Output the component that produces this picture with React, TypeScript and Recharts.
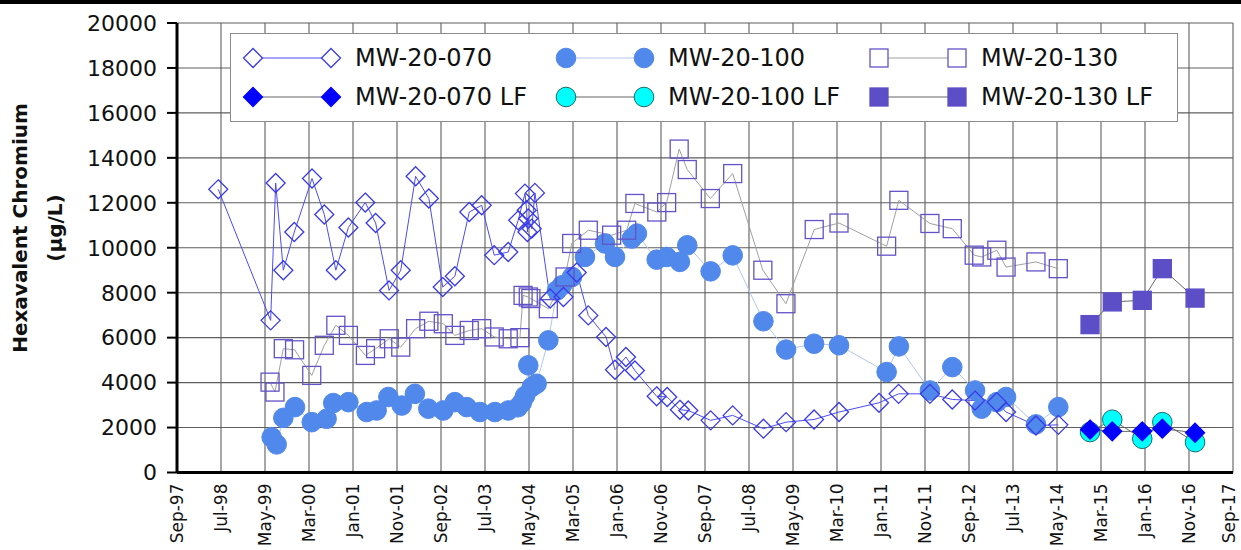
import React from 'react';
import { LineChart, Line, XAxis, YAxis, CartesianGrid } from 'recharts';

// x axis: Excel-style date axis, one major unit = 305 days
const tickLabels = [
  'Sep-97', 'Jul-98', 'May-99', 'Mar-00', 'Jan-01', 'Nov-01', 'Sep-02', 'Jul-03', 'May-04',
  'Mar-05', 'Jan-06', 'Nov-06', 'Sep-07', 'Jul-08', 'May-09', 'Mar-10', 'Jan-11', 'Nov-11',
  'Sep-12', 'Jul-13', 'May-14', 'Mar-15', 'Jan-16', 'Nov-16', 'Sep-17',
];
const yTicks = [0, 2000, 4000, 6000, 8000, 10000, 12000, 14000, 16000, 18000, 20000];

// MW-20-070
const mw070Dates = [
  '1998-06-14', '1999-06-12', '1999-07-17', '1999-09-08', '1999-11-23', '2000-03-25', '2000-06-18',
  '2000-09-06', '2000-12-02', '2001-03-29', '2001-06-09', '2001-09-10', '2001-11-30', '2002-03-13',
  '2002-06-13', '2002-09-17', '2002-12-10', '2003-03-20', '2003-06-14', '2003-09-09', '2003-12-15',
  '2004-02-22', '2004-04-09', '2004-04-21', '2004-04-26', '2004-05-02', '2004-05-26', '2004-06-17',
  '2004-09-30', '2005-01-01', '2005-04-03', '2005-06-22', '2005-10-23', '2005-12-24', '2006-03-10',
  '2006-05-11', '2006-10-09', '2006-12-21', '2007-03-19', '2007-05-16', '2007-10-18', '2008-03-19',
  '2008-10-18', '2009-03-24', '2009-10-04', '2010-03-26', '2010-12-28', '2011-05-13', '2011-12-16',
  '2012-05-19', '2012-10-24', '2013-03-24', '2013-05-27', '2013-12-20', '2014-05-24',
];
const mw070Values = [
  12600, 6770, 12880, 9000, 10700, 13080, 11480,
  9000, 10900, 12010, 11100, 8100, 9000, 13180,
  12190, 8250, 8730, 11590, 11890, 9670, 9810,
  11220, 12410, 11670, 10700, 11300, 10850, 12440,
  7740, 7810, 8900, 6990, 6030, 4570, 5140,
  4540, 3390, 3360, 2790, 2760, 2320, 2540,
  1950, 2240, 2360, 2690, 3100, 3500, 3500,
  3250, 3200, 3130, 2690, 2090, 2120,
];

// MW-20-100
const mw100Dates = [
  '1999-06-19', '1999-07-24', '1999-09-08', '1999-11-28', '2000-03-23', '2000-07-04', '2000-08-19',
  '2000-12-02', '2001-04-08', '2001-06-16', '2001-09-05', '2001-12-07', '2002-03-08', '2002-06-09',
  '2002-09-21', '2002-12-10', '2003-03-02', '2003-06-02', '2003-09-14', '2003-12-15', '2004-02-20',
  '2004-03-18', '2004-04-09', '2004-05-02', '2004-05-26', '2004-06-29', '2004-09-18', '2004-11-17',
  '2004-12-22', '2005-03-01', '2005-05-30', '2005-10-16', '2005-12-24', '2006-04-20', '2006-05-25',
  '2006-10-09', '2006-12-17', '2007-03-19', '2007-05-09', '2007-10-18', '2008-03-19', '2008-10-18',
  '2009-03-24', '2009-10-04', '2010-03-26', '2011-02-19', '2011-05-15', '2011-12-16', '2012-05-19',
  '2012-10-24', '2012-12-09', '2013-03-24', '2013-05-27', '2013-12-20', '2014-05-24',
];
const mw100Values = [
  1570, 1250, 2430, 2910, 2240, 2390, 3090,
  3130, 2690, 2760, 3360, 2980, 3500, 2840,
  2760, 3130, 2910, 2690, 2690, 2760, 2900,
  3100, 3400, 4770, 3800, 3950, 5880, 8100,
  8330, 8700, 9590, 10190, 9590, 10410, 10630,
  9470, 9590, 9370, 10110, 8950, 9660, 6730,
  5470, 5730, 5660, 4470, 5610, 3650, 4690,
  3650, 2840, 3130, 3360, 2140, 2910,
];

// MW-20-130
const mw130Dates = [
  '1999-06-08', '1999-07-12', '1999-09-08', '1999-11-25', '2000-03-23', '2000-06-18', '2000-09-06',
  '2000-12-02', '2001-03-30', '2001-06-09', '2001-09-11', '2001-11-30', '2002-03-13', '2002-06-13',
  '2002-09-21', '2002-12-10', '2003-03-20', '2003-06-14', '2003-09-09', '2003-12-15', '2004-03-05',
  '2004-03-27', '2004-05-02', '2004-05-20', '2004-09-18', '2005-01-12', '2005-02-27', '2005-06-22',
  '2005-12-01', '2006-03-15', '2006-05-11', '2006-10-10', '2006-12-17', '2007-03-14', '2007-05-09',
  '2007-10-16', '2008-03-19', '2008-10-14', '2009-03-23', '2009-10-05', '2010-03-26', '2011-02-19',
  '2011-05-15', '2011-12-16', '2012-05-19', '2012-10-18', '2012-12-09', '2013-03-24', '2013-05-27',
  '2013-12-20', '2014-05-24',
];
const mw130Values = [
  4020, 3580, 5510, 5460, 4320, 5660, 6550,
  6100, 5210, 5510, 5950, 5580, 6400, 6730,
  6620, 6100, 6320, 6400, 6030, 5950, 6000,
  7880, 7810, 7740, 7290, 8700, 10190, 10780,
  10560, 10780, 11970, 11590, 12010, 14390, 13480,
  12190, 13300, 9000, 7510, 10810, 11100, 10070,
  12110, 11080, 10850, 9670, 9590, 9890, 9140,
  9370, 9070,
];

// low-flow sampling events (shared by all three wells)
const lfDates = ['2014-12-30', '2015-06-02', '2015-12-27', '2016-05-14', '2016-12-27'];
const mw070LfValues = [1910, 1830, 1830, 1950, 1770];
const mw100LfValues = [1800, 2350, 1500, 2240, 1350];
const mw130LfValues = [6580, 7590, 7660, 9070, 7760];

const DAY = 86400000;
const toDay = (s: string) => Math.round(Date.parse(s) / DAY);
const axisStart = toDay('1997-09-01');
const tickStep = 305;
const xTicks = tickLabels.map((_, i) => axisStart + i * tickStep);
const axisEnd = xTicks[xTicks.length - 1];

const build = (dates: string[], values: number[]) =>
  dates.map((d, i) => ({ t: toDay(d), v: values[i] }));

const WIDTH = 1241;
const HEIGHT = 550;
const PLOT_TOP = 23;
const PLOT_LEFT = 177;
const X_AXIS_H = 77.5;
const PLOT_BOTTOM = HEIGHT - X_AXIS_H;
const FONT = 'DejaVu Sans, sans-serif';

type Shape = 'diamond' | 'circle' | 'square';

interface SeriesDef {
  name: string;
  data: { t: number; v: number }[];
  shape: Shape;
  fill: string;
  stroke: string;
  line: string;
}

const s070: SeriesDef = { name: 'MW-20-070', data: build(mw070Dates, mw070Values), shape: 'diamond', fill: 'none', stroke: '#3a3ae8', line: '#4b4bf5' };
const s070lf: SeriesDef = { name: 'MW-20-070 LF', data: build(lfDates, mw070LfValues), shape: 'diamond', fill: '#0000ff', stroke: '#0000ff', line: '#666' };
const s100: SeriesDef = { name: 'MW-20-100', data: build(mw100Dates, mw100Values), shape: 'circle', fill: '#5088eb', stroke: '#5088eb', line: '#b4c6f0' };
const s100lf: SeriesDef = { name: 'MW-20-100 LF', data: build(lfDates, mw100LfValues), shape: 'circle', fill: '#00ffff', stroke: '#1b6b6b', line: '#666' };
const s130: SeriesDef = { name: 'MW-20-130', data: build(mw130Dates, mw130Values), shape: 'square', fill: 'none', stroke: '#6253c8', line: '#a0a0a0' };
const s130lf: SeriesDef = { name: 'MW-20-130 LF', data: build(lfDates, mw130LfValues), shape: 'square', fill: '#5c4ec6', stroke: '#5c4ec6', line: '#666' };

// drawing order: circles underneath, then squares, then diamonds on top
const drawOrder = [s100, s100lf, s130, s130lf, s070, s070lf];
// legend reads across: 070, 100, 130 on the first row, LF wells on the second
const legendRows = [
  [s070, s100, s130],
  [s070lf, s100lf, s130lf],
];

function Marker({ shape, cx, cy, fill, stroke }: { shape: Shape; cx: number; cy: number; fill: string; stroke: string }) {
  if (shape === 'diamond') {
    const r = 9.5;
    return (
      <path
        d={`M${cx},${cy - r}L${cx + r},${cy}L${cx},${cy + r}L${cx - r},${cy}Z`}
        fill={fill}
        stroke={stroke}
        strokeWidth={1.3}
      />
    );
  }
  if (shape === 'square') {
    const h = 9;
    return <rect x={cx - h} y={cy - h} width={h * 2} height={h * 2} fill={fill} stroke={stroke} strokeWidth={1.3} />;
  }
  return <circle cx={cx} cy={cy} r={9.8} fill={fill} stroke={stroke} strokeWidth={1} />;
}

const dotFor = (s: SeriesDef) => (props: any) => {
  const { cx, cy, index } = props;
  if (cx == null || cy == null) return <g key={`${s.name}-${index}`} />;
  return (
    <g key={`${s.name}-${index}`}>
      <Marker shape={s.shape} cx={cx} cy={cy} fill={s.fill} stroke={s.stroke} />
    </g>
  );
};

function DateTick(props: any) {
  const { payload, index } = props;
  let i = xTicks.indexOf(payload.value);
  if (i < 0) i = index;
  // the last label sits on the right frame; pull it in so it stays on the page
  const x = i === tickLabels.length - 1 ? props.x - 4 : props.x;
  const y = PLOT_BOTTOM + 11;
  return (
    <text
      x={x}
      y={y}
      transform={`rotate(-90 ${x} ${y})`}
      textAnchor="end"
      dominantBaseline="central"
      fontSize={17}
      fontFamily={FONT}
      fill="#111"
    >
      {tickLabels[i]}
    </text>
  );
}

function ChartLegend() {
  const left = 230;
  const top = 33;
  const colW = 313;
  const rowY = [25, 64];
  return (
    <svg
      width={948}
      height={89}
      style={{ position: 'absolute', left, top, overflow: 'visible' }}
    >
      <rect x={0.5} y={0.5} width={947} height={88} fill="#fff" stroke="#8a8a8a" strokeWidth={1} />
      {legendRows.map((row, r) =>
        row.map((s, c) => {
          const x1 = 23 + c * colW;
          const x2 = x1 + 78;
          const y = rowY[r];
          return (
            <g key={s.name}>
              <line x1={x1} y1={y} x2={x2} y2={y} stroke={s.line} strokeWidth={1.2} />
              <Marker shape={s.shape} cx={x1} cy={y} fill={s.fill === 'none' ? '#fff' : s.fill} stroke={s.stroke} />
              <Marker shape={s.shape} cx={x2} cy={y} fill={s.fill === 'none' ? '#fff' : s.fill} stroke={s.stroke} />
              <text x={x1 + 102} y={y} dominantBaseline="central" fontSize={24} fontFamily={FONT} fill="#111">
                {s.name}
              </text>
            </g>
          );
        })
      )}
    </svg>
  );
}

export default function App() {
  const titleY = 228;
  return (
    <div style={{ position: 'absolute', left: 0, top: 0, width: WIDTH, height: HEIGHT, background: '#fff', overflow: 'hidden' }}>
      <div style={{ position: 'absolute', left: 0, top: 0, width: WIDTH, height: 4, background: '#000' }} />
      <LineChart width={WIDTH} height={HEIGHT} margin={{ top: PLOT_TOP, right: WIDTH - 1233, bottom: 0, left: 0 }}>
        <CartesianGrid stroke="#5e5e5e" strokeWidth={1.1} />
        <XAxis
          type="number"
          dataKey="t"
          domain={[axisStart, axisEnd]}
          ticks={xTicks}
          interval={0}
          allowDataOverflow
          height={X_AXIS_H}
          axisLine={{ stroke: '#000', strokeWidth: 3 }}
          tickLine={false}
          tickSize={0}
          tick={<DateTick />}
        />
        <YAxis
          type="number"
          domain={[0, 20000]}
          ticks={yTicks}
          interval={0}
          width={PLOT_LEFT}
          axisLine={{ stroke: '#000', strokeWidth: 3 }}
          tickLine={{ stroke: '#000', strokeWidth: 2 }}
          tickSize={10}
          tickMargin={10}
          tick={{ fill: '#111', fontSize: 22, fontFamily: FONT }}
        />
        {drawOrder.map((s) => (
          <Line
            key={s.name}
            data={s.data}
            dataKey="v"
            type="linear"
            stroke={s.line}
            strokeWidth={1}
            dot={dotFor(s)}
            activeDot={false}
            isAnimationActive={false}
          />
        ))}
        <text
          x={27}
          y={titleY}
          transform={`rotate(-90 27 ${titleY})`}
          textAnchor="middle"
          fontSize={20}
          fontWeight="bold"
          fontFamily={FONT}
          fill="#111"
        >
          Hexavalent Chromium
        </text>
        <text
          x={62}
          y={titleY}
          transform={`rotate(-90 62 ${titleY})`}
          textAnchor="middle"
          fontSize={20}
          fontWeight="bold"
          fontFamily={FONT}
          fill="#111"
        >
          (µg/L)
        </text>
      </LineChart>
      <ChartLegend />
    </div>
  );
}
